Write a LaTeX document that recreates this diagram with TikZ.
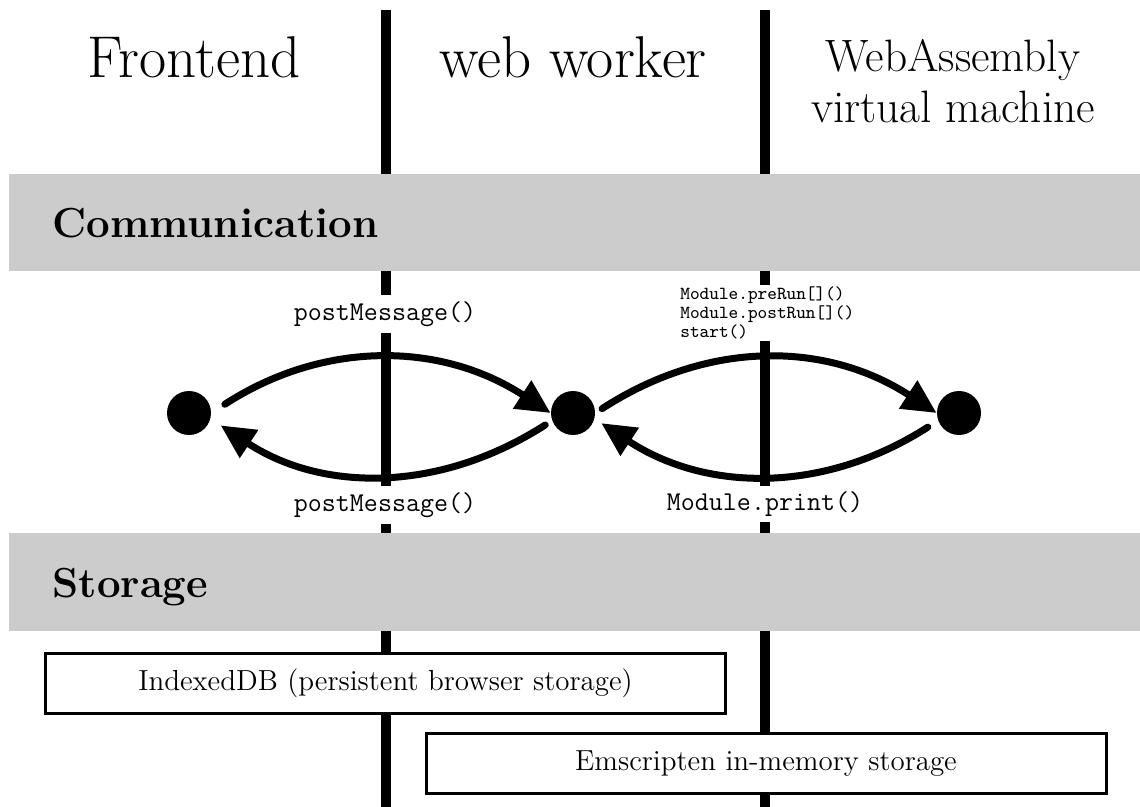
\documentclass[tikz,border=0pt]{standalone}
\usepackage{fontspec}
\usetikzlibrary{arrows.meta,positioning}

\begin{document}
\begin{tikzpicture}[x=0.5pt, y=-0.5pt,
    lane/.style={line width=5pt},
    band/.style={fill=black!20},
    bandtitle/.style={inner sep=0pt, anchor=base west, font=\fontsize{21}{25}\selectfont\bfseries},
    head/.style={inner sep=0pt, font=\fontsize{29.5}{35}\selectfont},
    dot/.style={circle, fill=black, inner sep=0pt, minimum size=22pt},
    call/.style={fill=white, inner sep=3pt, font=\fontsize{13.6}{16}\selectfont\ttfamily},
    store/.style={draw, line width=1.5pt, fill=white, minimum width=340pt, minimum height=30pt,
                  font=\fontsize{14.5}{17}\selectfont},
    flow/.style={line width=3.5pt, line cap=round, -{Triangle[length=17pt,width=16pt]}}]

\path[use as bounding box, fill=white] (0,0) rectangle (1140,807);

%the two lanes between frontend, worker and vm
\foreach \x in {386,765} {
    \draw[lane] (\x,10) -- (\x,807);
}

%column headings
\node[head, anchor=base] (front) at (194,78) {Frontend};
\node[head, anchor=base] (worker) at (573,78) {web worker};
\node[head, align=center, font=\fontsize{22.7}{25.5}\selectfont] (wasm) at (953,81) {WebAssembly\\virtual machine};

%grey section bands
\fill[band] (9,174) rectangle (1140,271);
\fill[band] (9,533) rectangle (1140,631);
\node[bandtitle] (comm) at (52,238) {Communication};
\node[bandtitle] (stor) at (52,597) {Storage};

%calls written over the lanes
\node[call] (pmtop) at (385,314) {postMessage()};
\node[call] (pmbot) at (385,505) {postMessage()};
\node[call] (mprint) at (765,504) {Module.print()};
\node[call, anchor=west, align=left, inner ysep=1pt, font=\fontsize{9.2}{9.5}\selectfont\ttfamily] (mrun) at (674,313)
    {Module.preRun[]()\\Module.postRun[]()\\start()};

%the three endpoints
\node[dot] (fe) at (189,413) {};
\node[dot] (ww) at (573,413) {};
\node[dot] (vm) at (959,413) {};

%messages back and forth
\draw[flow, shorten <=8pt] (fe.east) to[bend left=33] (ww.west);
\draw[flow, shorten <=4pt, shorten >=6pt] (ww.-160) to[bend left=33] (fe.-15);
\draw[flow, shorten <=4pt] (ww.east) to[bend left=33] (vm.west);
\draw[flow, shorten <=6pt, shorten >=4pt] (vm.-160) to[bend left=33] (ww.-15);

%storage boxes
\node[store] (idb) at (385.5,683.5) {IndexedDB (persistent browser storage)};
\node[store] (emfs) at (766,763.5) {Emscripten in-memory storage};

\end{tikzpicture}
\end{document}
